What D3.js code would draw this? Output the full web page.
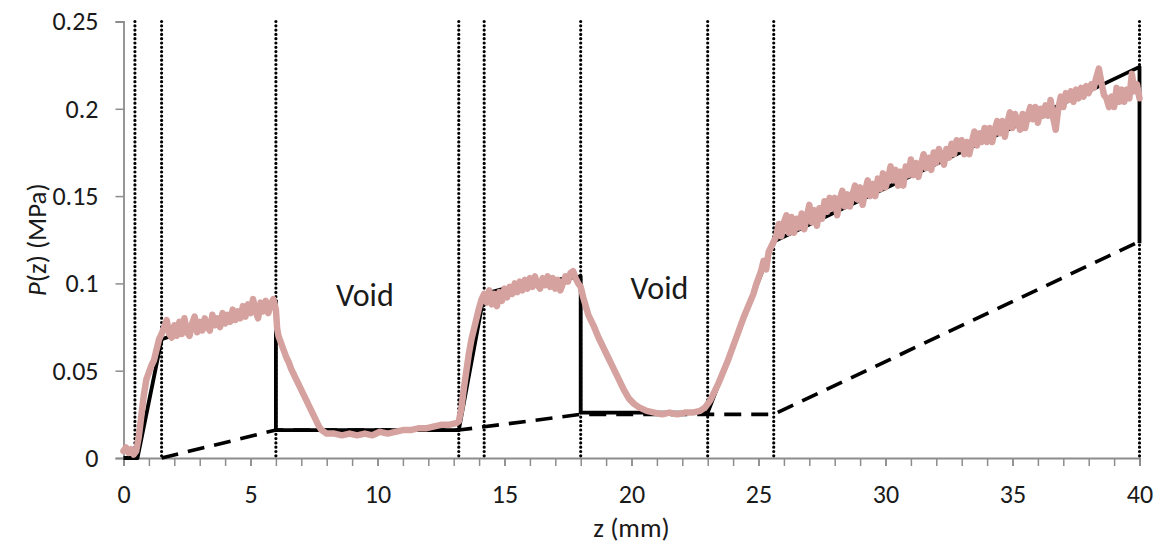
<!DOCTYPE html>
<html>
<head>
<meta charset="utf-8">
<script src="https://cdn.jsdelivr.net/npm/d3@7"></script>
<style>
  html, body { margin: 0; padding: 0; background: #fff; }
  svg { display: block; }
  text { font-family: Carlito, Lato, "Open Sans", sans-serif; fill: #1a1a1a; }
</style>
</head>
<body>
<svg id="chart" width="1162" height="548"></svg>
<script>
// ---- Data ----
const xTicks = [0, 5, 10, 15, 20, 25, 30, 35, 40];
const yTicks = [0, 0.05, 0.1, 0.15, 0.2, 0.25];
const yTickLabels = ["0", "0.05", "0.1", "0.15", "0.2", "0.25"];
const boundaryZ = [0.45, 1.5, 6.0, 13.2, 14.2, 18.0, 23.0, 25.6, 40];

// Model (solid black)
const modelZ = [0, 0.55, 1.5, 6.0, 6.0, 13.2, 14.2, 15, 16, 17, 18, 18, 23.0, 25.6, 40, 40];
const modelP = [0, 0, 0.068, 0.090, 0.016, 0.016, 0.094, 0.097, 0.100, 0.102, 0.104, 0.026, 0.026, 0.124, 0.224, 0.123];

// Reference / baseline (dashed)
const dashZ = [1.5, 6.0, 13.2, 18.0, 25.6, 40];
const dashP = [0, 0.016, 0.016, 0.025, 0.025, 0.124];

// Measured (pink, noisy) – [z, P]
const measured = [
 [0,0.004],[0.1,0.006],[0.2,0.003],[0.3,0.005],[0.4,0.002],[0.5,0.004],[0.6,0.012],[0.7,0.024],[0.8,0.036],[0.9,0.045],
 [1.0,0.049],[1.1,0.053],[1.2,0.056],[1.3,0.062],[1.4,0.068],[1.5,0.071],
 [1.6,0.075],[1.7,0.079],[1.8,0.071],[1.9,0.069],[2.0,0.076],[2.1,0.070],[2.2,0.078],[2.3,0.071],[2.4,0.080],[2.5,0.072],
 [2.6,0.070],[2.7,0.077],[2.8,0.081],[2.9,0.072],[3.0,0.078],[3.1,0.073],[3.2,0.080],[3.3,0.075],[3.4,0.073],[3.5,0.082],
 [3.6,0.076],[3.7,0.080],[3.8,0.075],[3.9,0.083],[4.0,0.077],[4.1,0.082],[4.2,0.078],[4.3,0.085],[4.4,0.079],[4.5,0.084],
 [4.6,0.080],[4.7,0.087],[4.8,0.081],[4.9,0.088],[5.0,0.083],[5.1,0.091],[5.2,0.084],[5.3,0.080],[5.4,0.089],[5.5,0.084],
 [5.6,0.090],[5.7,0.083],[5.8,0.088],[5.9,0.091],[6.0,0.085],[6.05,0.074],[6.1,0.070],
 [6.2,0.066],[6.3,0.062],[6.4,0.058],[6.5,0.055],[6.6,0.051],[6.7,0.048],[6.8,0.045],[6.9,0.042],[7.0,0.039],[7.1,0.036],
 [7.2,0.033],[7.3,0.030],[7.4,0.027],[7.5,0.024],[7.6,0.021],[7.7,0.018],[7.8,0.016],[7.9,0.015],[8.0,0.014],[8.3,0.014],
 [8.6,0.013],[8.9,0.014],[9.2,0.013],[9.5,0.014],[9.8,0.013],[10.1,0.015],[10.4,0.014],[10.7,0.015],[11.0,0.016],[11.3,0.016],
 [11.6,0.017],[11.9,0.017],[12.2,0.018],[12.5,0.019],[12.8,0.019],[13.1,0.020],[13.2,0.021],
 [13.3,0.028],[13.4,0.040],[13.5,0.050],[13.6,0.060],[13.7,0.068],[13.8,0.074],[13.9,0.080],[14.0,0.086],[14.1,0.091],[14.2,0.094],
 [14.3,0.089],[14.4,0.096],[14.5,0.088],[14.6,0.094],[14.7,0.087],[14.8,0.095],[14.9,0.090],[15.0,0.097],[15.1,0.092],[15.2,0.098],
 [15.3,0.094],[15.4,0.100],[15.5,0.095],[15.6,0.101],[15.7,0.096],[15.8,0.102],[15.9,0.097],[16.0,0.103],[16.1,0.098],[16.2,0.104],
 [16.3,0.099],[16.4,0.097],[16.5,0.103],[16.6,0.099],[16.7,0.104],[16.8,0.098],[16.9,0.103],[17.0,0.097],[17.1,0.102],[17.2,0.096],
 [17.3,0.100],[17.4,0.104],[17.5,0.101],[17.6,0.106],[17.7,0.107],[17.8,0.103],[17.9,0.100],[18.0,0.098],
 [18.1,0.092],[18.2,0.087],[18.3,0.082],[18.5,0.076],[18.7,0.069],[18.9,0.063],[19.1,0.057],[19.3,0.051],[19.5,0.045],[19.7,0.039],
 [19.9,0.034],[20.1,0.031],[20.3,0.029],[20.6,0.027],[20.9,0.026],[21.2,0.025],[21.5,0.026],[21.8,0.025],[22.1,0.026],[22.4,0.026],
 [22.7,0.027],[22.9,0.029],[23.0,0.031],[23.1,0.033],
 [23.2,0.036],[23.4,0.042],[23.6,0.049],[23.8,0.056],[24.0,0.064],[24.2,0.072],[24.4,0.080],[24.6,0.087],[24.8,0.094],[24.9,0.099],
 [25.0,0.103],[25.1,0.107],[25.2,0.113],[25.3,0.108],[25.4,0.118],[25.5,0.121],[25.6,0.124],
 [25.7,0.127],[25.8,0.134],[25.9,0.127],[26.0,0.135],[26.1,0.139],[26.2,0.129],[26.3,0.138],[26.4,0.129],[26.5,0.137],[26.6,0.132],
 [26.7,0.140],[26.8,0.131],[26.9,0.138],[27.0,0.145],[27.1,0.135],[27.2,0.142],[27.3,0.133],[27.4,0.143],[27.5,0.137],[27.6,0.147],
 [27.7,0.141],[27.8,0.149],[27.9,0.143],[28.0,0.149],[28.1,0.139],[28.2,0.148],[28.3,0.153],[28.4,0.144],[28.5,0.151],[28.6,0.144],
 [28.7,0.151],[28.8,0.156],[28.9,0.148],[29.0,0.155],[29.1,0.145],[29.2,0.153],[29.3,0.159],[29.4,0.150],[29.5,0.157],[29.6,0.150],
 [29.7,0.160],[29.8,0.154],[29.9,0.163],[30.0,0.155],[30.1,0.160],[30.2,0.167],[30.3,0.159],[30.4,0.165],[30.5,0.156],[30.6,0.164],
 [30.7,0.156],[30.8,0.167],[30.9,0.162],[31.0,0.171],[31.1,0.162],[31.2,0.169],[31.3,0.161],[31.4,0.168],[31.5,0.174],[31.6,0.166],
 [31.7,0.172],[31.8,0.165],[31.9,0.175],[32.0,0.169],[32.1,0.177],[32.2,0.173],[32.3,0.168],[32.4,0.177],[32.5,0.172],[32.6,0.180],
 [32.7,0.174],[32.8,0.182],[32.9,0.177],[33.0,0.182],[33.1,0.174],[33.2,0.181],[33.3,0.174],[33.4,0.181],[33.5,0.187],[33.6,0.179],
 [33.7,0.186],[33.8,0.181],[33.9,0.189],[34.0,0.181],[34.1,0.189],[34.2,0.181],[34.3,0.188],[34.4,0.193],[34.5,0.186],[34.6,0.193],
 [34.7,0.184],[34.8,0.192],[34.9,0.198],[35.0,0.189],[35.1,0.197],[35.2,0.193],[35.3,0.188],[35.4,0.197],[35.5,0.189],[35.6,0.196],
 [35.7,0.201],[35.8,0.194],[35.9,0.201],[36.0,0.192],[36.1,0.200],[36.2,0.196],[36.3,0.202],[36.4,0.196],[36.5,0.205],[36.6,0.195],
 [36.7,0.188],[36.8,0.200],[36.9,0.207],[37.0,0.201],[37.1,0.209],[37.2,0.205],[37.3,0.210],[37.4,0.204],[37.5,0.211],[37.6,0.206],
 [37.7,0.212],[37.8,0.207],[37.9,0.213],[38.0,0.209],[38.1,0.214],[38.2,0.212],[38.3,0.218],[38.4,0.223],[38.5,0.215],[38.6,0.208],
 [38.7,0.206],[38.8,0.201],[38.9,0.207],[39.0,0.201],[39.1,0.212],[39.2,0.204],[39.3,0.211],[39.4,0.204],[39.5,0.211],[39.6,0.206],
 [39.7,0.220],[39.8,0.210],[39.9,0.214],[40.0,0.206]
];

const annotations = [
  { text: "Void", z: 9.5, p: 0.0917 },
  { text: "Void", z: 21.1, p: 0.0957 }
];

// ---- Layout ----
(function () {
const svg = d3.select("#chart");
const mLeft = 123.5, mRight = 1139.5, mTop = 21.5, mBottom = 458;

const x = d3.scaleLinear().domain([0, 40]).range([mLeft, mRight]);
const y = d3.scaleLinear().domain([0, 0.25]).range([mBottom, mTop]);

const axisColor = "#8c8c8c";
const fontFam = "Carlito, Lato, 'Open Sans', sans-serif";

// Minor x ticks
const xAxisMinor = d3.axisBottom(x).tickValues(d3.range(0, 41, 1)).tickSize(8).tickFormat("");
const gxm = svg.append("g").attr("transform", `translate(0,${mBottom})`).call(xAxisMinor);
gxm.select(".domain").remove();
gxm.selectAll("line").attr("stroke", axisColor).attr("stroke-width", 1.5);

const xAxis = d3.axisBottom(x).tickValues(xTicks).tickSize(8).tickPadding(19).tickFormat(d3.format("d"));
const gx = svg.append("g").attr("transform", `translate(0,${mBottom})`).call(xAxis);
gx.select(".domain").attr("stroke", axisColor).attr("stroke-width", 1.8);
gx.selectAll("line").attr("stroke", axisColor).attr("stroke-width", 1.5);
gx.selectAll("text").attr("font-size", 26).attr("fill", "#1a1a1a").style("font-family", fontFam);

const yAxis = d3.axisLeft(y).tickValues(yTicks).tickSize(8).tickPadding(17)
  .tickFormat((d, i) => yTickLabels[i]);
const gy = svg.append("g").attr("transform", `translate(${mLeft},0)`).call(yAxis);
gy.select(".domain").attr("stroke", axisColor).attr("stroke-width", 1.8);
gy.selectAll("line").attr("stroke", axisColor).attr("stroke-width", 1.5);
gy.selectAll("text").attr("font-size", 26).attr("fill", "#1a1a1a").style("font-family", fontFam);

// Vertical dotted boundaries
svg.append("g").selectAll("line").data(boundaryZ).join("line")
  .attr("x1", d => x(d)).attr("x2", d => x(d))
  .attr("y1", y(0.25)).attr("y2", y(0))
  .attr("stroke", "#000").attr("stroke-width", 3.2)
  .attr("stroke-linecap", "round").attr("stroke-dasharray", "0 4.3");

const line = d3.line().x(d => x(d[0])).y(d => y(d[1]));

// Dashed reference
svg.append("path")
  .datum(dashZ.map((z, i) => [z, dashP[i]]))
  .attr("d", line).attr("fill", "none")
  .attr("stroke", "#000").attr("stroke-width", 3.6)
  .attr("stroke-dasharray", "17 10");

// Model solid
svg.append("path")
  .datum(modelZ.map((z, i) => [z, modelP[i]]))
  .attr("d", line).attr("fill", "none")
  .attr("stroke", "#000").attr("stroke-width", 3.8)
  .attr("stroke-linejoin", "round");

// Measured pink
svg.append("path")
  .datum(measured)
  .attr("d", line).attr("fill", "none")
  .attr("stroke", "#d5a29f").attr("stroke-width", 6.5)
  .attr("stroke-linejoin", "round").attr("stroke-linecap", "round");

// Annotations
svg.append("g").selectAll("text").data(annotations).join("text")
  .attr("x", d => x(d.z)).attr("y", d => y(d.p))
  .attr("text-anchor", "middle").attr("dominant-baseline", "middle")
  .attr("font-size", 32).text(d => d.text);

// Axis titles
svg.append("text")
  .attr("x", (mLeft + mRight) / 2).attr("y", 537)
  .attr("text-anchor", "middle").attr("font-size", 27)
  .text("z (mm)");

const yt = svg.append("text")
  .attr("transform", `translate(46,${(mTop + mBottom) / 2}) rotate(-90)`)
  .attr("text-anchor", "middle").attr("font-size", 27);
yt.append("tspan").attr("font-style", "italic").text("P");
yt.append("tspan").text("(z) (MPa)");
})();
</script>
</body>
</html>
